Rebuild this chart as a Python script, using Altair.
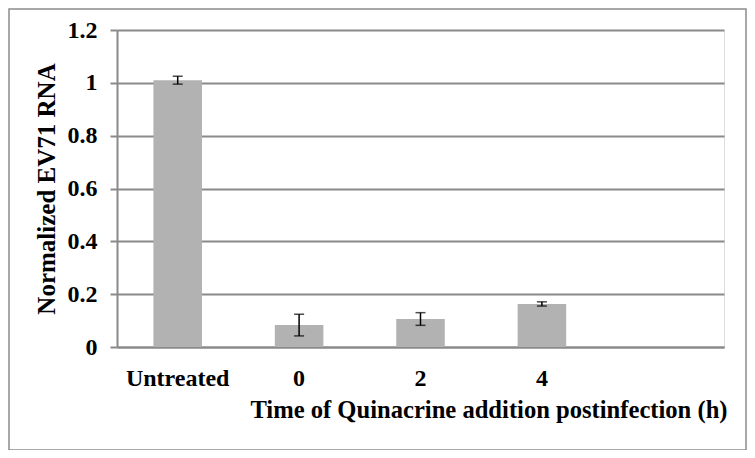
import altair as alt
import pandas as pd

categories = ["Untreated", "0", "2", "4", " "]
values = [1.01, 0.083, 0.106, 0.163, None]
errors = [0.015, 0.041, 0.024, 0.008, None]

df = pd.DataFrame({"cat": categories, "val": values, "err": errors})
df["lo"] = df["val"] - df["err"]
df["hi"] = df["val"] + df["err"]
bars_df = df.dropna()

FONT = "Liberation Serif"
W, H = 607, 317

xenc = alt.X(
    "cat:N",
    sort=categories,
    scale=alt.Scale(domain=categories, paddingInner=0.6, paddingOuter=0.3),
    axis=alt.Axis(
        title="Time of Quinacrine addition postinfection (h)",
        labelAngle=0,
        ticks=False,
        tickSize=0,
        labelPadding=38,
        labelBaseline="alphabetic",
        labelFont=FONT,
        labelFontSize=24,
        labelFontWeight="bold",
        labelColor="#000000",
        domainColor="#8a8a8a",
        domainWidth=2,
        titleFont=FONT,
        titleFontSize=24.6,
        titleFontWeight="bold",
        titleColor="#000000",
        titleX=610,
        titleY=70,
        titleAlign="right",
        titleBaseline="alphabetic",
    ),
)

yscale = alt.Scale(domain=[0, 1.2])
yaxis = alt.Axis(
    title="Normalized EV71 RNA",
    values=[0, 0.2, 0.4, 0.6, 0.8, 1.0, 1.2],
    format="~g",
    grid=True,
    gridColor="#8a8a8a",
    gridWidth=2,
    domainColor="#8a8a8a",
    domainWidth=2,
    tickColor="#8a8a8a",
    tickWidth=2,
    tickSize=7,
    labelPadding=13,
    labelFont=FONT,
    labelFontSize=24,
    labelFontWeight="bold",
    labelColor="#000000",
    titleFont=FONT,
    titleFontSize=25,
    titleFontWeight="bold",
    titleColor="#000000",
    titleAngle=-90,
    titleX=-63,
    titleY=H / 2,
    titleAlign="center",
    titleBaseline="alphabetic",
)

base = alt.Chart(bars_df)

bars = base.mark_bar(color="#b2b2b2").encode(
    x=xenc,
    y=alt.Y("val:Q", scale=yscale, axis=yaxis),
)

errbars = base.mark_rule(color="#000000", strokeWidth=1.5).encode(
    x=alt.X("cat:N", sort=categories),
    y="lo:Q",
    y2="hi:Q",
)
caps_lo = base.mark_tick(color="#000000", thickness=1.5, size=10, orient="horizontal").encode(
    x=alt.X("cat:N", sort=categories),
    y="lo:Q",
)
caps_hi = base.mark_tick(color="#000000", thickness=1.5, size=10, orient="horizontal").encode(
    x=alt.X("cat:N", sort=categories),
    y="hi:Q",
)

border = alt.Chart(pd.DataFrame({"a": [0]})).mark_rect(
    fill=None, stroke="#8c8c8c", strokeWidth=1.5
).encode(
    x=alt.value(-108),
    x2=alt.value(629),
    y=alt.value(-21),
    y2=alt.value(420),
)

chart = alt.layer(border, bars, errbars, caps_lo, caps_hi).properties(
    width=W,
    height=H,
    autosize=alt.AutoSizeParams(type="none"),
    padding={"left": 109, "top": 22, "right": 23, "bottom": 103},
).configure_view(stroke=None).configure(background="#ffffff")

chart.save("out.html", embed_options={"renderer": "svg", "actions": False})
